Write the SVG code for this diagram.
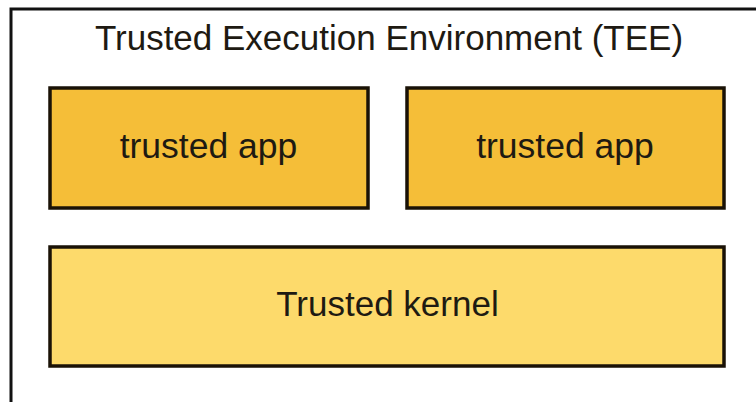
<svg xmlns="http://www.w3.org/2000/svg" width="756" height="402" viewBox="0 0 756 402">
  <style>
    .frame { fill: #ffffff; stroke: #111111; stroke-width: 3; }
    .box { stroke: #1a1206; stroke-width: 3.5; }
    .app { fill: #F5BE38; }
    .kernel { fill: #FDDA6B; }
    .label { font-family: "Liberation Sans", Arial, sans-serif; fill: #1e1a12; text-anchor: middle; }
  </style>
  <rect width="756" height="402" fill="#ffffff"/>

  <g id="tee">
    <rect class="frame" x="11" y="9" width="760" height="410"/>
    <text class="label" x="389" y="50" font-size="35">Trusted Execution Environment (TEE)</text>
  </g>

  <g id="trusted-app-1">
    <rect class="box app" x="50" y="88" width="318" height="120"/>
    <text class="label" x="208.5" y="158" font-size="35.5">trusted app</text>
  </g>

  <g id="trusted-app-2">
    <rect class="box app" x="407" y="88" width="317" height="120"/>
    <text class="label" x="565" y="158" font-size="35.5">trusted app</text>
  </g>

  <g id="trusted-kernel">
    <rect class="box kernel" x="50" y="247" width="674" height="119"/>
    <text class="label" x="387.5" y="316" font-size="35">Trusted kernel</text>
  </g>

  <g id="connectors"/>
</svg>
